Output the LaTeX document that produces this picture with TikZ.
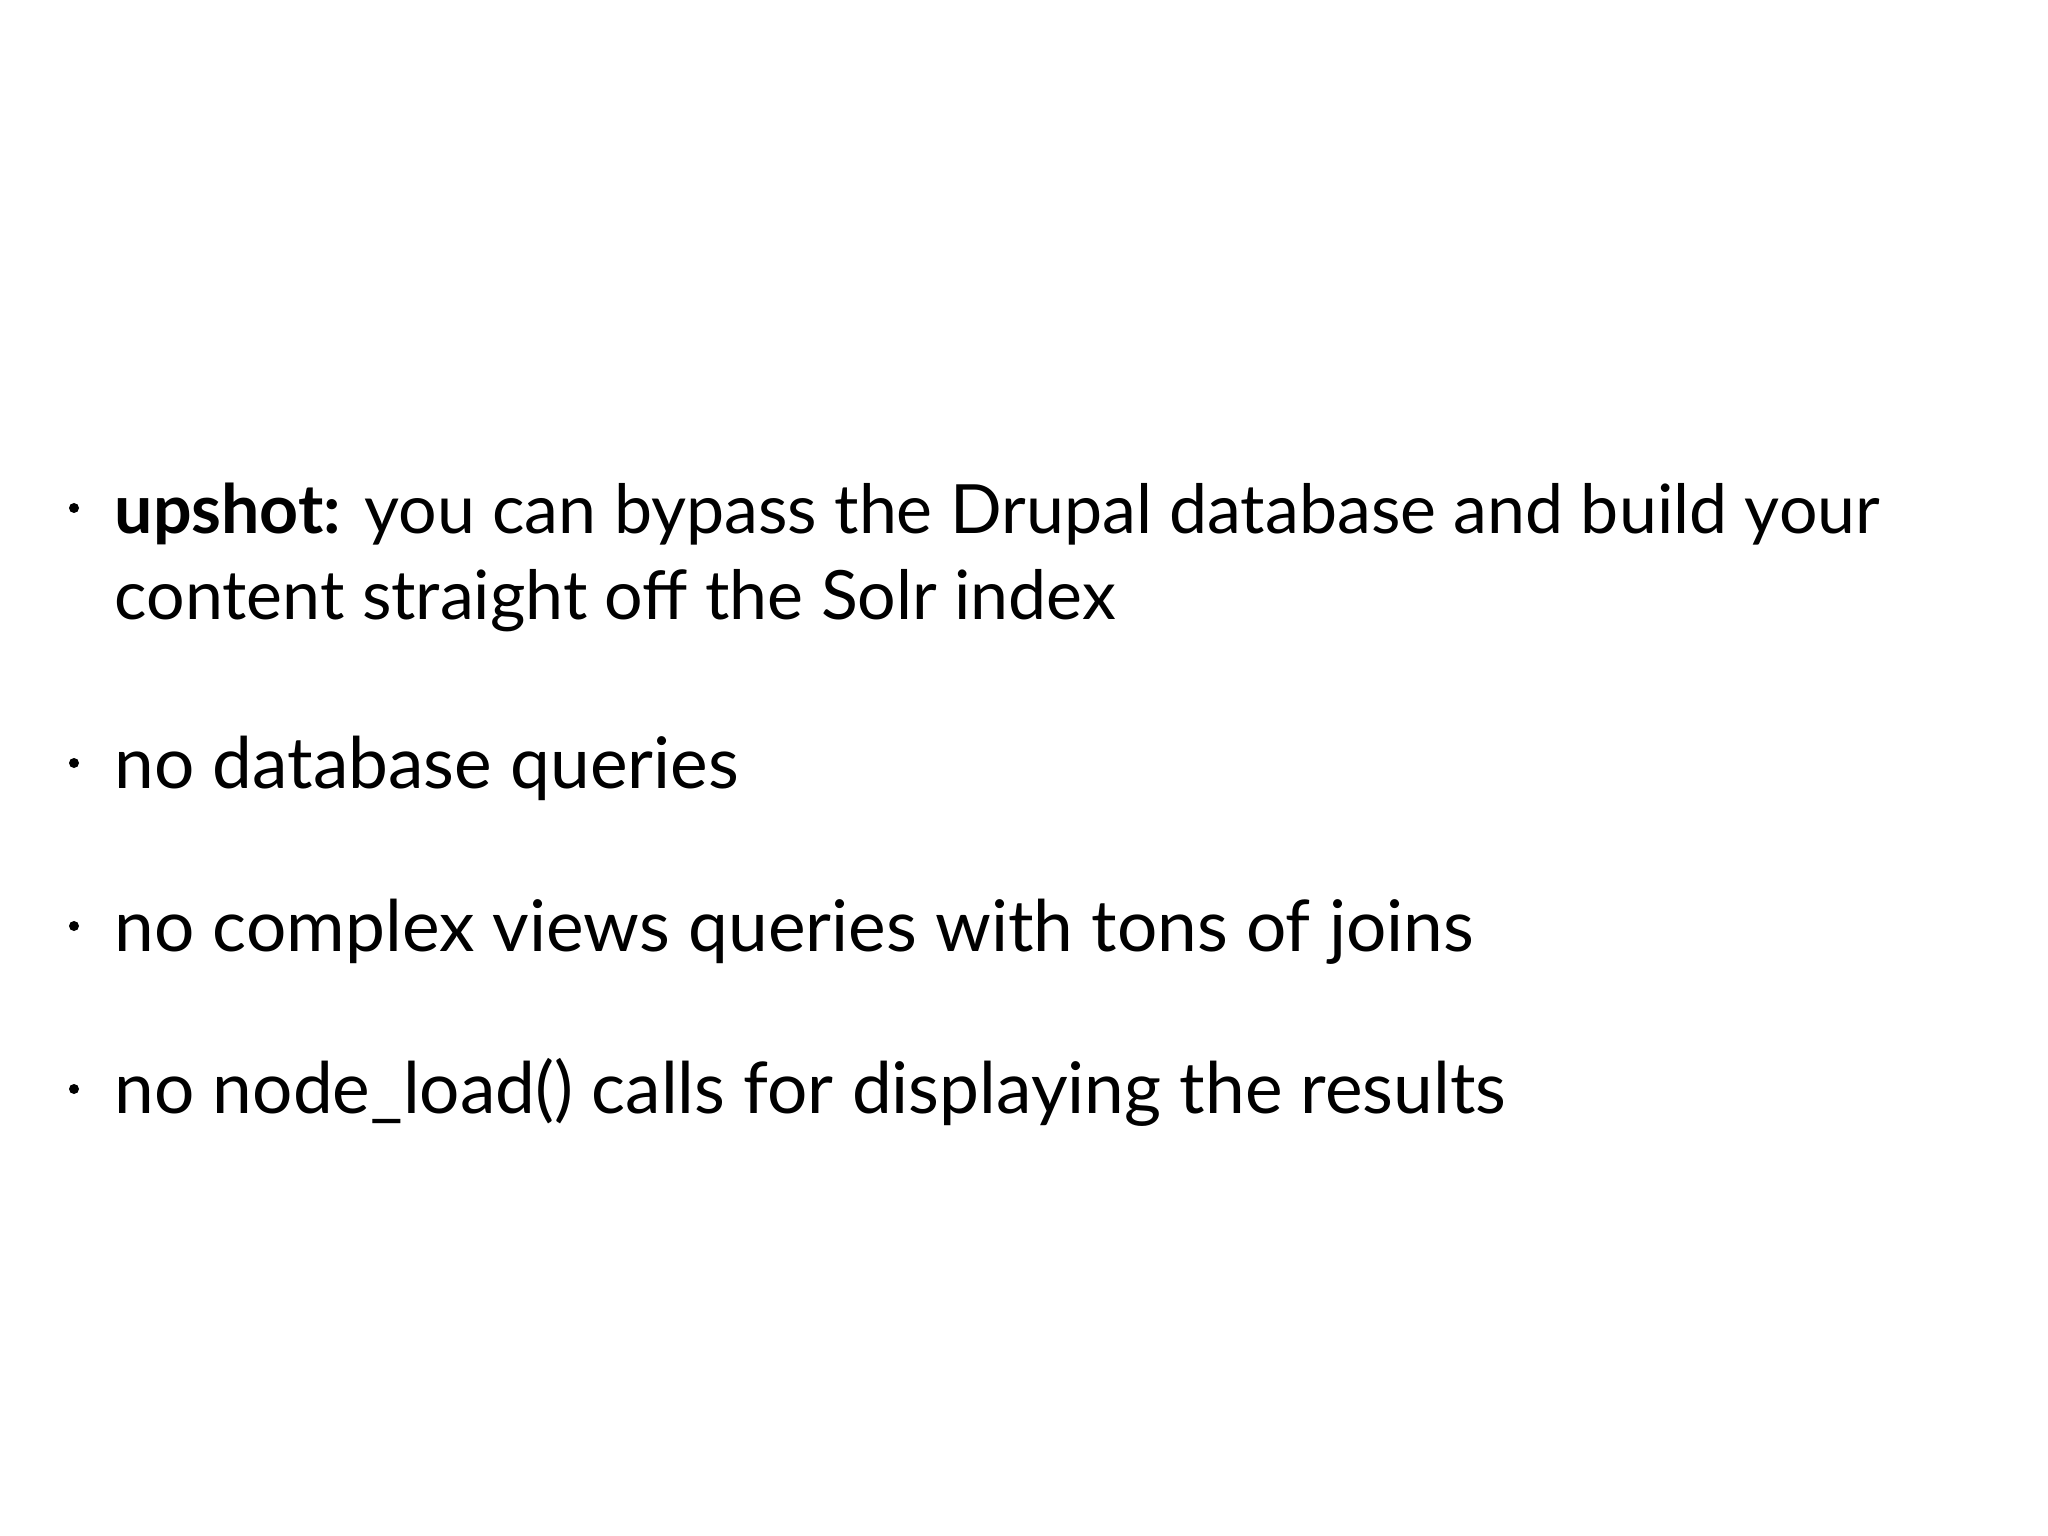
\documentclass[tikz,border=0pt]{standalone}
\usepackage{fontspec}
\setmainfont{Lato}
\begin{document}
\begin{tikzpicture}[x=1cm,y=1cm,
  txt/.style={anchor=base west,inner sep=0pt,font=\fontsize{19.35}{26}\selectfont},
  txtb/.style={anchor=base west,inner sep=0pt,font=\fontsize{20.25}{26}\selectfont},
  bul/.style={circle,fill=black,inner sep=0pt,minimum size=0.1cm}]
\useasboundingbox[fill=white] (0,0) rectangle (20.48,-15.36);
\node[bul] (b1) at (0.74,-5.08) {};
\node[txt] (t1) at (1.14,-5.33) {\textbf{upshot:} you can bypass the Drupal database and build your};
\node[txt] (t1b) at (1.14,-6.20) {content straight off the Solr index};
\node[bul] (b2) at (0.74,-7.63) {};
\node[txtb] (t2) at (1.14,-7.88) {no database queries};
\node[bul] (b3) at (0.74,-9.26) {};
\node[txtb] (t3) at (1.14,-9.51) {no complex views queries with tons of joins};
\node[bul] (b4) at (0.74,-10.89) {};
\node[txtb] (t4) at (1.14,-11.14) {no node\_load() calls for displaying the results};
\end{tikzpicture}
\end{document}
